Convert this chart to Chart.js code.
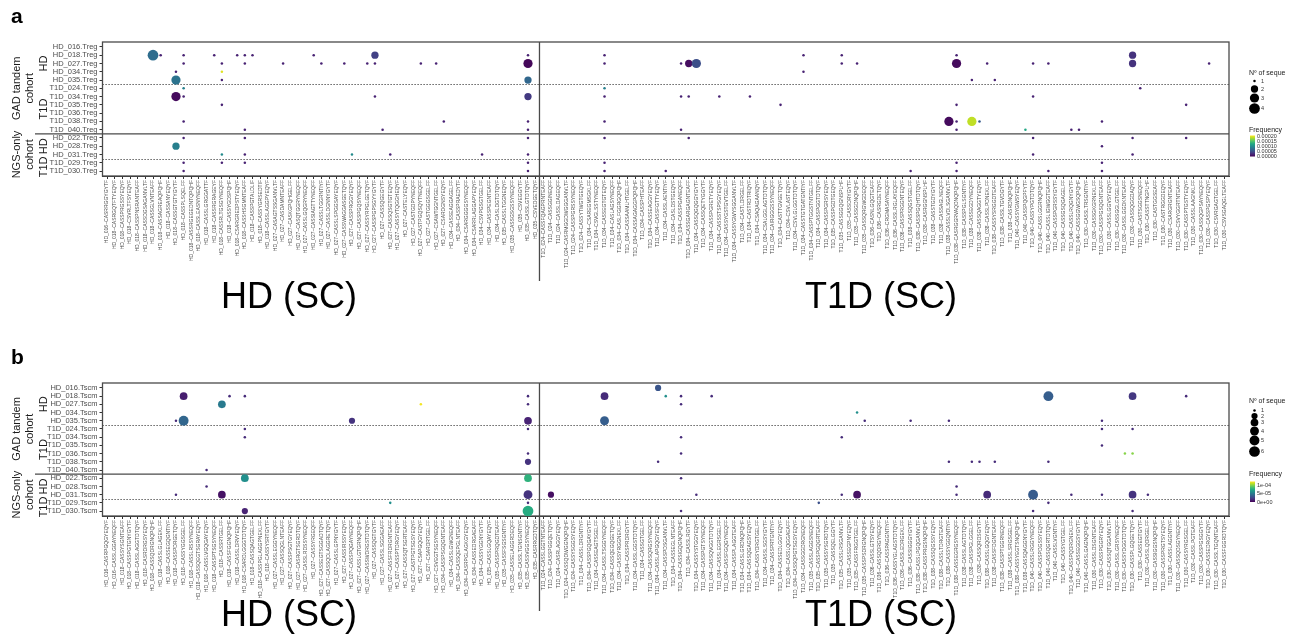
<!DOCTYPE html>
<html>
<head>
<meta charset="utf-8">
<script src="https://cdn.jsdelivr.net/npm/chart.js@4.4.1/dist/chart.umd.min.js"></script>
<style>
  html, body { margin: 0; padding: 0; background: #fff; }
  #wrap { position: relative; width: 1295px; height: 636px; overflow: hidden; }
  canvas { position: absolute; left: 0; }
  #chartA { top: 0; }
  #chartB { top: 341px; }
</style>
</head>
<body>
<div id="wrap">
  <canvas id="chartA" width="1295" height="341"></canvas>
  <canvas id="chartB" width="1295" height="295"></canvas>
</div>
<script>
const FONT = "'Liberation Sans', Arial, sans-serif";
Chart.defaults.font.family = FONT;

// y categories (top to bottom)
const tregSamples = ["HD_016.Treg", "HD_018.Treg", "HD_027.Treg", "HD_034.Treg", "HD_035.Treg",
  "T1D_024.Treg", "T1D_034.Treg", "T1D_035.Treg", "T1D_036.Treg", "T1D_038.Treg", "T1D_040.Treg",
  "HD_022.Treg", "HD_028.Treg", "HD_031.Treg", "T1D_029.Treg", "T1D_030.Treg"];
const tscmSamples = tregSamples.map(s => s.replace(".Treg", ".Tscm"));

// x categories: clonotypes per sample (sample prefix, CDR3 list)
const tregCloneGroups = [
  ["HD_016", "CASRRGGYGYTF"],
  ["HD_018", "CASRGQTFTYEQYF CASSPRGSSYEQYF CSVRLTFSYEQYF CASSPNSRANTEAFF CASSDGSAGANVLTF CASSGLVNTEAFF CASSAGREAQPQHF CASSANYEQYF CASSGTGTYGYTF CASSPLSQELFF CASSRGEGEDNTQPQHF CASSLEASNYNEQFF CASSLGRGGATTF CASSRGRAGEYF CASSRLTGSGYNEQFF CASSYGDSPQHF CSARGREDPSTYEQYF CASSHSGMNTEAFF CASSPGTALDLIF CASSYGRSEDTIF CASSLAGGPYEQYF"],
  ["HD_027", "CASAGTSSGANVLTF CASDAMNTEAFF CASKGPQHGELFF CASQTGGRYNEQFF CASSLGQGRYNEQFF CASSIAGTTYNEQFF CASSLTGGRNTIYF CASSLDGNNYGYTF CASSLSPGGSAYEQYF CASSWAGGASGETQYF CASSPRGGYEQYF CASSPGQSYNEQFF CASSYRPGLGETQYF CASSPGPSGYYGYTF CASSQGEGYTF CASSQSGTGTEQYF CASSYTQGGHEQYF CASTELYEQYF CASTGDPYNEQFF CASTPGQSQYTNEQFF CASTGGGSGELFF CSAWTGGNTGELFF CSARDGNSYEQYF"],
  ["HD_034", "CASSEAGGAGELFF CASSPRAEDYTF CSARGGGGSYNEQFF CSARRLAGGAPYEQYF CSVPGSGTGELFF CASSPEGNTEAFF CASLDGTDTQYF"],
  ["HD_035", "CASSLTGGNEQYF CASSGSGSSYNEQFF CSVEGGYTF CASSLGTDTQYF CSVEDGETQYF"],
  ["T1D_024", "CASSFQAGPRNTEAFF CASSGGINEQFF CASSLDAGEQFF CASRMGGDWGGGANVLTF CASSPGRSSYNEQFF CASSYTWGTGEQYF"],
  ["T1D_034", "CSAREGMSGKLFF CSVGLSSTYNEQFF CASSEGTGTEQYF CASLAGSYNEQFF CASLFGGRGQPQHF CASSAAMLHTGELFF CASSAGAGGPQPQHF CASSPHTEAFF CASSEAGGYEQYF CASSFGTTYEQYF CASSLAENTIYF CASLDSTGEQYF CASSPGANEQFF CASSGARGAGNTEAFF CASSQGQGGYGYTF CASSQETYGGYTF CASSPGRETYEQYF CASSSTSPSGYEQYF CASSYGSTGVTGELFF CASSYGWYSGGANVLTF CASTLDRGELFF CASTRDTRIQYF CSAQAGAANQYF CSALGGLAGTDTQYF CAIRGGGSSYNEQFF CASTTGVGETQYF CSVLASTEQYF CSVLGLGGTDTQYF CASSTGTGATGNTIYF CASSPTGGSTNTGELFF CASSPGGTDTQYF CASSPGRSYEQYF"],
  ["T1D_035", "CASSPGDTGEQYF CASSGGQGNSPLHF CASSDRYGYTF CASSGDNQPQHF CASSQRGWGDEQFF"],
  ["T1D_036", "CASNLGQGTEAFF CASRGDETQYF CRGMASAYNEQFF CASSLRGLAYEQFF CASSPRGGNTEQYF"],
  ["T1D_038", "CASSQGSTGELFF CASSPGQHTDTQYF CASRGGNSPLHF CASSTGDYGYTF CASSAGLNEQFF CASSLVDLSGANVLTF CASRGGRVAQDNQPQHF CASSPGLSGNTIYF CASSEGDYNEQFF CASSQAGGTYEQYF CASSLPDNEKLFF CASSYSRGGDTEAFF CASSLTGVDGYTF CASRDNQPQHF"],
  ["T1D_040", "CASSYGWSYEQYF CASSPQGPFYTF CASSYPGTDTQYF CASSLGGRNQPQHF CASSLIGWGGTEAFF CASSPGRSSYGYTF CASSGSQGAGELFF CASSLRQGNYGYTF CASSGGWGSQPQHF"],
  ["T1D_030", "CASSLTRSGNTIYF CASSGKGRNEKLFF CASSPGSQGNTEAFF CASSLGGVSYEQYF CASSGGLGTGELFF CASSLGGDKNTEAFF CASSQGGDAQYF CASTSGGSNEQFF CASSTTNGPLHF CASTGGSEAFF CASTRGGDEQYF CSARGRGNTEAFF CSVYGGRTNTEAFF CASSPTGSTYEQYF CASSLAAGNKLFF CASSQGPSAYNEQFF CASSPGSPYEQYF CSVRGAGTGELFF CSVSGAQGLTEAFF"]
];
const tscmCloneGroups = [
  ["HD_016", "CASRPGQGYEQYF CASSLGGAYNEQFF"],
  ["HD_018", "CASSYSGNTEAFF CASSPGTGNYGYTF CASSLAGGTDTQYF CASRDRGSYEQYF CASSQDRGNQPQHF CASSLGLAGEKLFF CASSEGQGNTIYF CASSPDRGETQYF CASSYGGSGELFF CASSLRSSYNEQFF CASSQEGTSGRAYEQYF CASSLVGQGAYEQYF CASSPTSGSYNEQFF CASSRTGELFF CASSFGGNQPQHF CASSLDRVYEQYF CSARDLGGGTDTQYF CASSQAGTGELFF CASSPGLAGGPNEKLFF CASSYSRTGYTF"],
  ["HD_027", "CASSLEGGYNEQFF CASSQGLNTEAFF CASSPSGTGYEQYF CASRGTSGRDTQYF CASSLRDSSYNEQFF CASSYRGEQFF CASSEGTSGGADTQYF CASSQDLAGGRETQYF CASSLGPNYGYTF CASSIRSSYEQYF CASSPQGAYNEQFF CASSLGTGRNQPQHF CASSWDRGSTDTQYF CASSQGTGYTF CASSLSGGAEAFF CASSFRDRGNTEAFF CASSPTDRGYEQYF CASSQTSGRTEAFF CASTPGTSGSYEQYF CSAPGQGYEQYF CSARDRTGELFF CSVEGTSGSYNEQFF"],
  ["HD_034", "CASSPSGQGNTEAFF CASSLGWGNEQFF CASSQEPGLNTEAFF CASRPGLAGKGYEQYF CASSEDRGAEAFF CASSYGGNYGYTF"],
  ["HD_035", "CASSLGQAYEQYF CASSPRQGDTEAFF CASSFSGSGNTIYF CASSELAGGRDEQFF CASSLTGNSGNTIYF CASSVGGSYNEQFF CASRRGDTQYF"],
  ["T1D_024", "CASSLGGTNTEAFF CASSPGGQETQYF CASRLAGGYEQYF CASSQDWGGNQPQHF CASSYSGGSYEQYF"],
  ["T1D_034", "CASSLDRGNTIYF CASSPGQGAYGYTF CASSEAGTSGELFF CASSLTSGGYNEQFF CASSQEGQGETQYF CASSYRGGNEKLFF CASSPRDRGYTF CASSLGGSTDTQYF CASSGTGELFF CASSQRGSYNEQFF CASSLAPGQGYEQYF CASSPDSGANVLTF CASSEGLNTEAFF CASSIGQGNQPQHF CASSLRGYTF CASSYSTGGYEQYF CASSPGTSYNEQFF CASSQVGGTDTQYF CASSLEGRSGELFF CASSFGQGYNEQFF CASSPLAGGTEAFF CASSLGRDNQPQHF CASSQGAGSYEQYF CASSYDRGTGELFF CASSLSGSYGYTF CASSPRTGNTIYF CASSEDLGGYEQYF CASSLQGGAEAFF CASSQPGTSGSYEQYF CASSGGDRGNEQFF"],
  ["T1D_035", "CASSLAGGSNEQFF CASSPGQGRTEAFF CASSYSGRDTQYF CASSQELGGYTF CASSLRSGANVLTF CASSEGPNYEQYF CASSFRGGTGELFF CASSPSDRGNQPQHF"],
  ["T1D_036", "CASSLGTSYEQYF CASSQDRGYNEQFF CASSPAGGNTIYF CASSYGLAGSTDTQYF CASSLEDRGEKLFF CASSIGGGYGYTF"],
  ["T1D_038", "CASSLPGQGANVLTF CASSPRGSNQPQHF CASSQGSSYEQYF CASSLTDRGTEAFF CASSYGGQNTIYF CASSEGRGSYNEQFF CASSLAGTDTQYF CASSPGLGGELFF CASSQRDSGYTF CASSLGQGYEQYF CASSFDGNTEAFF CASSPTGGRNEQFF CASSLSRGSGELFF CASSYEGTSNQPQHF CASSQAGGNYGYTF"],
  ["T1D_040", "CASSLRGGYNEQFF CASSPDGSSYEQYF CASSQGRTDTQYF CASSLVGNTIYF CASSYGTGELFF CASSPQDRGNEKLFF CASSEGGSYGYTF CASSLGAGNQPQHF"],
  ["T1D_030", "CASSLDSGNTEAFF CASSPGGRYEQYF CASSQTGGANVLTF CASSLGRSYNEQFF CASSYDGGTDTQYF CASSPLGQGETQYF CASSEGTGYTF CASSLQDRGELFF CASSIGGSNQPQHF CASSPRGTSYEQYF CASSLAGGNTIYF CASSQDSGYNEQFF CASSYRGSGELFF CASSLPGTEAFF CASSPGSGGYTF CASSEDRGYEQYF CASSLTGQNTEAFF CASSFGGRDTQYF"]
];
const tregClones = tregCloneGroups.flatMap(([s, seqs]) => seqs.split(" ").map(q => s + "~" + q));
const tscmClones = tscmCloneGroups.flatMap(([s, seqs]) => seqs.split(" ").map(q => s + "~" + q));

// [sample row, clonotype column, Nº of sequences, frequency]; short entries = 1 sequence at the common low frequency
const tregPoints = [
  [1, 6, 4, 7.5e-5], [1, 7], [1, 10], [1, 14], [1, 17], [1, 18], [1, 19], [1, 27], [1, 35, 2, 4e-5], [1, 55], [1, 65], [1, 91], [1, 96], [1, 111], [1, 134, 2, 3e-5],
  [2, 10], [2, 15], [2, 18], [2, 23], [2, 28], [2, 31], [2, 34], [2, 35], [2, 41], [2, 43], [2, 55, 3, 4e-6], [2, 65], [2, 75], [2, 76, 2, 8e-6], [2, 77, 3, 5e-5], [2, 96], [2, 98], [2, 111, 3, 6e-6], [2, 115], [2, 121], [2, 123], [2, 134, 2, 3e-5], [2, 144],
  [3, 9], [3, 15, 1, 2e-4], [3, 91],
  [4, 9, 3, 8e-5], [4, 15], [4, 55, 2, 7e-5], [4, 113], [4, 116],
  [5, 10, 1, 9e-5], [5, 65, 1, 9e-5], [5, 135],
  [6, 9, 3, 6e-6], [6, 10], [6, 35], [6, 55, 2, 3.5e-5], [6, 65], [6, 75], [6, 76], [6, 80], [6, 84], [6, 121],
  [7, 15], [7, 88], [7, 111], [7, 141],
  [9, 10], [9, 44], [9, 55], [9, 65], [9, 110, 3, 6e-6], [9, 111], [9, 113, 3, 1.9e-4], [9, 114, 1, 6e-5], [9, 130],
  [10, 18], [10, 36], [10, 55], [10, 75], [10, 111], [10, 120, 1, 1.25e-4], [10, 126], [10, 127],
  [11, 10], [11, 18], [11, 55], [11, 65], [11, 76], [11, 121], [11, 134], [11, 141],
  [12, 9, 2, 9e-5], [12, 130],
  [13, 15, 1, 1e-4], [13, 18], [13, 32, 1, 1e-4], [13, 37], [13, 49], [13, 55], [13, 121], [13, 134],
  [14, 10], [14, 15], [14, 18], [14, 55], [14, 65], [14, 111], [14, 130],
  [15, 10], [15, 55], [15, 65], [15, 73], [15, 105], [15, 111], [15, 123], [15, 130]
];
const tscmPoints = [
  [0, 72, 2, 3.2e-5],
  [1, 10, 3, 1e-5], [1, 16], [1, 18], [1, 55], [1, 65, 3, 1.5e-5], [1, 73, 1, 6e-5], [1, 75], [1, 79], [1, 123, 5, 3.6e-5], [1, 134, 3, 2e-5], [1, 141],
  [2, 15, 3, 5e-5], [2, 41, 1, 1.2e-4], [2, 55], [2, 75],
  [3, 98, 1, 6e-5],
  [4, 9], [4, 10, 5, 4e-5], [4, 32, 2, 1.8e-5], [4, 55, 3, 1.2e-5], [4, 65, 4, 3.6e-5], [4, 99], [4, 105], [4, 110], [4, 130],
  [5, 18], [5, 55], [5, 130], [5, 134],
  [6, 18], [6, 75], [6, 96],
  [7, 130],
  [8, 55], [8, 75], [8, 133, 1, 1e-4], [8, 134, 1, 1e-4],
  [9, 55, 2, 1.8e-5], [9, 72], [9, 110], [9, 113], [9, 114], [9, 116], [9, 123],
  [10, 13],
  [11, 18, 3, 6e-5], [11, 55, 3, 7.8e-5], [11, 75],
  [12, 13], [12, 111],
  [13, 9], [13, 15, 3, 6e-6], [13, 55, 4, 1.8e-5], [13, 58, 2, 5e-6], [13, 77], [13, 96], [13, 98, 3, 6e-6], [13, 111], [13, 115, 3, 1.5e-5], [13, 121, 5, 3.5e-5], [13, 126], [13, 130], [13, 134, 3, 1.8e-5], [13, 136],
  [14, 37, 1, 6e-5], [14, 55], [14, 93, 1, 3e-5], [14, 123],
  [15, 18, 2, 1.2e-5], [15, 55, 6, 7.5e-5], [15, 75], [15, 121], [15, 134]
];

const tregLowFreq = 2e-5, tscmLowFreq = 1.5e-5;
const tregFreqMax = 2.1e-4, tscmFreqMax = 1.22e-4;
const tregSizeMax = 4, tscmSizeMax = 6;
const tregFreqTicks = [0, 5e-5, 1e-4, 1.5e-4, 2e-4];
const tregFreqLabels = ["0.00000", "0.00005", "0.00010", "0.00015", "0.00020"];
const tscmFreqTicks = [0, 5e-5, 1e-4];
const tscmFreqLabels = ["0e+00", "5e-05", "1e-04"];

const VIRIDIS = ["#440154", "#482475", "#414487", "#355f8d", "#2a788e", "#21918c", "#22a884", "#44bf70", "#7ad151", "#bddf26", "#fde725"];
function viridis(t) {
  t = Math.max(0, Math.min(1, t));
  const p = t * (VIRIDIS.length - 1);
  const i = Math.min(VIRIDIS.length - 2, Math.floor(p));
  const f = p - i;
  const a = VIRIDIS[i], b = VIRIDIS[i + 1];
  const ch = k => Math.round(parseInt(a.substr(k, 2), 16) * (1 - f) + parseInt(b.substr(k, 2), 16) * f);
  return `rgb(${ch(1)},${ch(3)},${ch(5)})`;
}

// ggplot-like area scale for the count
function bubbleRadius(n, maxN) {
  return 0.45 + 0.82 * (1 + 5 * Math.sqrt((n - 1) / (maxN - 1)));
}

function line(ctx, x1, y1, x2, y2) {
  ctx.beginPath(); ctx.moveTo(x1, y1); ctx.lineTo(x2, y2); ctx.stroke();
}

function vText(ctx, text, x, y) {
  ctx.save(); ctx.translate(x, y); ctx.rotate(-Math.PI / 2);
  ctx.fillText(text, 0, 0); ctx.restore();
}

const panelDecor = {
  id: "panelDecor",
  beforeDatasetsDraw(chart, args, o) {
    const { ctx, chartArea: a, scales: { x, y } } = chart;
    ctx.save();
    ctx.strokeStyle = "#3a3a3a";
    ctx.lineWidth = 1;
    ctx.setLineDash([1.2, 1.8]);
    [4.5, 13.5].forEach(v => {
      const py = Math.round(y.getPixelForValue(v)) + 0.5;
      line(ctx, a.left, py, a.right, py);
    });
    ctx.setLineDash([]);
    ctx.lineWidth = 1.3;
    ctx.strokeStyle = "#4a4a4a";
    const cy = y.getPixelForValue(10.5);
    line(ctx, 35, cy, a.right, cy);
    const vx = x.getPixelForValue(56.5);
    line(ctx, vx, a.top, vx, a.bottom + o.splitDrop);
    ctx.strokeRect(a.left, a.top, a.right - a.left, a.bottom - a.top);
    ctx.restore();
  },
  afterDraw(chart, args, o) {
    const { ctx, scales: { y } } = chart;
    ctx.save();
    ctx.fillStyle = "#000";
    ctx.textAlign = "left"; ctx.textBaseline = "alphabetic";
    ctx.font = `bold 21px ${FONT}`;
    ctx.fillText(o.letter, 11, 23);

    // cohort / group strips
    ctx.fillStyle = "#1a1a1a";
    ctx.font = `11px ${FONT}`;
    ctx.textAlign = "center"; ctx.textBaseline = "middle";
    vText(ctx, "GAD tandem", 17, y.getPixelForValue(5));
    vText(ctx, "cohort", 30, y.getPixelForValue(5));
    vText(ctx, "NGS-only", 17, y.getPixelForValue(13));
    vText(ctx, "cohort", 30, y.getPixelForValue(13));
    vText(ctx, "HD", 44, y.getPixelForValue(2));
    vText(ctx, "T1D", 44, y.getPixelForValue(7.5));
    vText(ctx, "HD", 44, y.getPixelForValue(12));
    vText(ctx, "T1D", 44, y.getPixelForValue(14.5));

    // big titles
    ctx.fillStyle = "#000";
    ctx.font = `36px ${FONT}`;
    ctx.fillText("HD (SC)", 289, o.titleY);
    ctx.fillText("T1D (SC)", 881, o.titleY);

    // size legend
    ctx.textAlign = "left";
    ctx.fillStyle = "#1a1a1a";
    ctx.font = `7px ${FONT}`;
    ctx.fillText("Nº of seque", 1249, o.sizeTitleY);
    ctx.font = `5.5px ${FONT}`;
    o.sizeKeys.forEach((n, i) => {
      ctx.beginPath();
      ctx.arc(1254.5, o.sizeKeyY[i], bubbleRadius(n, o.sizeMax), 0, Math.PI * 2);
      ctx.fillStyle = "#000"; ctx.fill();
      ctx.fillStyle = "#333";
      ctx.fillText(String(n), 1261, o.sizeKeyY[i]);
    });

    // colour bar
    ctx.fillStyle = "#1a1a1a";
    ctx.font = `7px ${FONT}`;
    ctx.fillText("Frequency", 1249, o.freqTitleY);
    const [bt, bb] = o.barRange;
    const g = ctx.createLinearGradient(0, bb, 0, bt);
    for (let k = 0; k <= 10; k++) g.addColorStop(k / 10, viridis(k / 10));
    ctx.fillStyle = g;
    ctx.fillRect(1250, bt, 5, bb - bt);
    ctx.fillStyle = "#333";
    ctx.font = `5.5px ${FONT}`;
    o.freqTicks.forEach((v, i) => {
      const py = bb - (v / o.freqMax) * (bb - bt);
      ctx.fillText(o.freqLabels[i], 1257, py);
    });
    ctx.restore();
  }
};

function makeChart(canvasId, samples, clones, points, lowFreq, freqMax, sizeMax, bottomPad, decor) {
  const data = points.map(([row, col, n = 1, freq = lowFreq]) => ({
    x: col, y: row, r: bubbleRadius(n, sizeMax), freq
  }));
  return new Chart(document.getElementById(canvasId), {
    type: "bubble",
    data: {
      datasets: [{
        data,
        backgroundColor: c => viridis((c.raw ? c.raw.freq : 0) / freqMax),
        borderWidth: 0,
        hoverRadius: 0
      }]
    },
    options: {
      responsive: false,
      animation: false,
      events: [],
      layout: { padding: { top: 42, right: 66, bottom: bottomPad, left: 0 } },
      plugins: { legend: { display: false }, tooltip: { enabled: false }, panelDecor: decor },
      scales: {
        x: {
          type: "linear", min: -0.6, max: clones.length - 0.4,
          afterBuildTicks: s => { s.ticks = clones.map((_, i) => ({ value: i })); },
          afterFit: s => { s.height = 100; },
          ticks: {
            autoSkip: false, minRotation: 90, maxRotation: 90, padding: 1,
            font: { size: 5 }, color: "#4d4d4d",
            callback: v => clones[v]
          },
          grid: { drawOnChartArea: false, tickLength: 3, color: "#333" },
          border: { color: "#333", width: 1 }
        },
        y: {
          type: "linear", min: -0.6, max: samples.length - 0.4, reverse: true,
          afterBuildTicks: s => { s.ticks = samples.map((_, i) => ({ value: i })); },
          afterFit: s => { s.width = 102.5; },
          ticks: {
            autoSkip: false, padding: 2,
            font: { size: 7.5 }, color: "#4d4d4d",
            callback: v => samples[v]
          },
          grid: { drawOnChartArea: false, tickLength: 3, color: "#333" },
          border: { color: "#333", width: 1 }
        }
      }
    },
    plugins: [panelDecor]
  });
}

makeChart("chartA", tregSamples, tregClones, tregPoints, tregLowFreq, tregFreqMax, tregSizeMax, 65, {
  letter: "a", titleY: 298, splitDrop: 105,
  sizeTitleY: 73.5, sizeMax: tregSizeMax, sizeKeys: [1, 2, 3, 4], sizeKeyY: [81, 89, 98, 108.5],
  freqTitleY: 130.5, barRange: [135.5, 156.5], freqMax: tregFreqMax,
  freqTicks: tregFreqTicks, freqLabels: tregFreqLabels
});

makeChart("chartB", tscmSamples, tscmClones, tscmPoints, tscmLowFreq, tscmFreqMax, tscmSizeMax, 20, {
  letter: "b", titleY: 275, splitDrop: 95,
  sizeTitleY: 60, sizeMax: tscmSizeMax, sizeKeys: [1, 2, 3, 4, 5, 6], sizeKeyY: [69.5, 75, 81.5, 90, 99.5, 110.5],
  freqTitleY: 133, barRange: [140.5, 161], freqMax: tscmFreqMax,
  freqTicks: tscmFreqTicks, freqLabels: tscmFreqLabels
});
</script>
</body>
</html>
